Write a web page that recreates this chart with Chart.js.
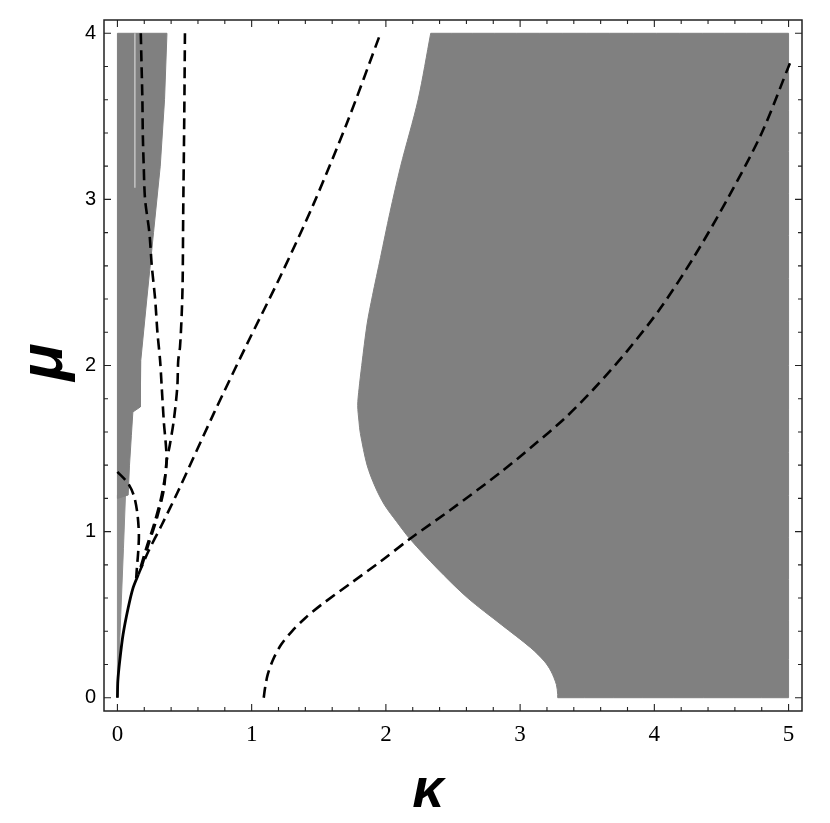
<!DOCTYPE html>
<html>
<head>
<meta charset="utf-8">
<script src="https://cdn.jsdelivr.net/npm/chart.js@4.4.1/dist/chart.umd.min.js"></script>
<style>
  html, body { margin: 0; padding: 0; background: #fff; }
  #wrap { width: 830px; height: 823px; }
</style>
</head>
<body>
<div id="wrap"><canvas id="chart" width="830" height="823"></canvas></div>
<script>
// ejes
const xTicks = [0, 1, 2, 3, 4, 5];
const yTicks = [0, 1, 2, 3, 4];

// región gris grande (derecha), [kappa, mu]; esquinas repetidas para que queden rectas
const regionDerecha = [
  [2.334, 4.0], [2.334, 4.0], [2.24, 3.6], [2.11, 3.2], [2.03, 2.92], [1.96, 2.65], [1.90, 2.42],
  [1.86, 2.25], [1.82, 2.0], [1.80, 1.86], [1.79, 1.76], [1.80, 1.66], [1.81, 1.59],
  [1.86, 1.40], [1.92, 1.27], [1.99, 1.16], [2.08, 1.06], [2.18, 0.955], [2.38, 0.78],
  [2.61, 0.60], [2.86, 0.44], [3.08, 0.30], [3.18, 0.22], [3.23, 0.16], [3.27, 0.08],
  [3.28, 0.02], [3.28, 0], [3.28, 0], [5, 0], [5, 0], [5, 4.0], [5, 4.0], [2.334, 4.0], [2.334, 4.0]
];

// región gris izquierda (cuña)
const regionIzquierda = [
  [0, 4.0], [0.369, 4.0], [0.351, 3.6], [0.319, 3.2], [0.269, 2.8], [0.219, 2.4],
  [0.174, 2.03], [0.17, 1.75], [0.115, 1.72], [0.104, 1.58], [0.09, 1.40],
  [0.08, 1.22], [0, 1.20], [0, 4.0]
];

// franja gris clara cerca de kappa = 0
const franjaClara = [
  [0, 1.22], [0.06, 1.22], [0.045, 0.9], [0.025, 0.5], [0.008, 0.15], [0, 0], [0, 1.22]
];

// línea blanca tenue dentro de la cuña
const lineaBlanca = [[0.13, 4.0], [0.13, 3.07]];

// curva sólida desde el origen
const curvaSolida = [
  [0, 0], [0.003, 0.1], [0.017, 0.22], [0.042, 0.38], [0.08, 0.54], [0.116, 0.66], [0.155, 0.74]
];

// curvas punteadas
const punteada1 = [
  [1.09, 0], [1.10, 0.06], [1.12, 0.14], [1.16, 0.23], [1.22, 0.32], [1.30, 0.40],
  [1.40, 0.48], [1.52, 0.56], [1.74, 0.69], [1.96, 0.82], [2.18, 0.957], [2.48, 1.13],
  [2.86, 1.36], [3.10, 1.52], [3.33, 1.68], [3.55, 1.86], [3.80, 2.09], [4.05, 2.35],
  [4.30, 2.66], [4.55, 3.01], [4.80, 3.40], [5.01, 3.82]
];
const punteada2 = [
  [0.155, 0.74], [0.23, 0.88], [0.33, 1.04], [0.45, 1.24], [0.717, 1.71], [0.966, 2.13],
  [1.21, 2.53], [1.46, 2.97], [1.71, 3.46], [1.96, 4.0]
];
const punteada3 = [
  [0.503, 4.0], [0.498, 3.5], [0.49, 2.91], [0.486, 2.51], [0.479, 2.31], [0.466, 2.11],
  [0.453, 2.03], [0.446, 1.87], [0.42, 1.67], [0.39, 1.52], [0.366, 1.42], [0.345, 1.25],
  [0.29, 1.07], [0.23, 0.92], [0.17, 0.76]
];
const punteada4 = [
  [0.174, 4.0], [0.18, 3.8], [0.186, 3.6], [0.189, 3.4], [0.196, 3.2], [0.206, 3.0],
  [0.238, 2.8], [0.256, 2.6], [0.281, 2.4], [0.298, 2.2], [0.318, 2.03], [0.33, 1.87],
  [0.345, 1.67], [0.366, 1.42], [0.33, 1.22], [0.275, 1.05], [0.215, 0.9], [0.16, 0.75]
];
const punteada5 = [
  [0, 1.36], [0.08, 1.29], [0.125, 1.21], [0.15, 1.1], [0.16, 0.98], [0.155, 0.88],
  [0.145, 0.78], [0.14, 0.72]
];

const aXY = arr => arr.map(p => ({ x: p[0], y: p[1] }));

function relleno(datos, color, tension) {
  return {
    data: aXY(datos), showLine: true, pointRadius: 0, tension: tension || 0,
    borderColor: color, backgroundColor: color, borderWidth: 1, fill: 'shape', order: 5
  };
}
function punteada(datos) {
  return {
    data: aXY(datos), showLine: true, pointRadius: 0, tension: 0.3,
    borderColor: '#000', borderWidth: 2.6, borderDash: [11, 6], fill: false, order: 1
  };
}

// marco con marcas hacia adentro y títulos de ejes
const marcoPlugin = {
  id: 'marco',
  afterDatasetsDraw(chart) {
    const { ctx, chartArea: a, scales: { x, y } } = chart;
    ctx.save();
    ctx.strokeStyle = '#222';
    ctx.lineWidth = 1.5;
    ctx.strokeRect(a.left, a.top, a.right - a.left, a.bottom - a.top);
    ctx.lineWidth = 1.1;
    for (let i = 0; i <= 25; i++) {
      const v = i * 0.2;
      const px = x.getPixelForValue(v);
      const len = (i % 5 === 0) ? 7 : 4;
      ctx.beginPath();
      ctx.moveTo(px, a.bottom); ctx.lineTo(px, a.bottom - len);
      ctx.moveTo(px, a.top); ctx.lineTo(px, a.top + len);
      ctx.stroke();
    }
    for (let i = 0; i <= 20; i++) {
      const v = i * 0.2;
      const py = y.getPixelForValue(v);
      const len = (i % 5 === 0) ? 7 : 4;
      ctx.beginPath();
      ctx.moveTo(a.left, py); ctx.lineTo(a.left + len, py);
      ctx.moveTo(a.right, py); ctx.lineTo(a.right - len, py);
      ctx.stroke();
    }
    // títulos
    ctx.fillStyle = '#000';
    ctx.font = 'italic bold 56px "Liberation Sans", Arial, sans-serif';
    ctx.textAlign = 'center';
    ctx.textBaseline = 'middle';
    ctx.fillText('κ', 428, 792);
    ctx.font = 'italic bold 62px "Liberation Sans", Arial, sans-serif';
    ctx.translate(45, 362);
    ctx.rotate(-Math.PI / 2);
    ctx.fillText('μ', 0, 0);
    ctx.restore();
  }
};

new Chart(document.getElementById('chart'), {
  type: 'scatter',
  data: {
    datasets: [
      relleno(regionDerecha, '#808080', 0.3),
      relleno(regionIzquierda, '#808080'),
      relleno(franjaClara, '#8f8f8f'),
      {
        data: aXY(lineaBlanca), showLine: true, pointRadius: 0,
        borderColor: '#c4c4c4', borderWidth: 1.5, fill: false, order: 3
      },
      {
        data: aXY(curvaSolida), showLine: true, pointRadius: 0, tension: 0.3,
        borderColor: '#000', borderWidth: 2.8, fill: false, order: 2
      },
      punteada(punteada1),
      punteada(punteada2),
      punteada(punteada3),
      punteada(punteada4),
      punteada(punteada5)
    ]
  },
  options: {
    responsive: false,
    animation: false,
    layout: { padding: { left: 0, right: 28, top: 13, bottom: 0 } },
    plugins: { legend: { display: false }, tooltip: { enabled: false } },
    scales: {
      x: {
        type: 'linear', min: -0.1, max: 5.1,
        grid: { display: false, drawTicks: false },
        border: { display: false },
        afterFit: s => { s.height = 112; },
        afterBuildTicks: s => { s.ticks = xTicks.map(v => ({ value: v })); },
        ticks: {
          padding: 10, color: '#000', maxRotation: 0, autoSkip: false,
          font: { family: '"Liberation Serif", "Times New Roman", serif', size: 23 }
        }
      },
      y: {
        type: 'linear', min: -0.08, max: 4.08,
        grid: { display: false, drawTicks: false },
        border: { display: false },
        afterFit: s => { s.width = 104; },
        afterBuildTicks: s => { s.ticks = yTicks.map(v => ({ value: v })); },
        ticks: {
          padding: 8, color: '#000', autoSkip: false,
          font: { family: '"Liberation Sans", Arial, sans-serif', size: 20 }
        }
      }
    }
  },
  plugins: [marcoPlugin]
});
</script>
</body>
</html>
